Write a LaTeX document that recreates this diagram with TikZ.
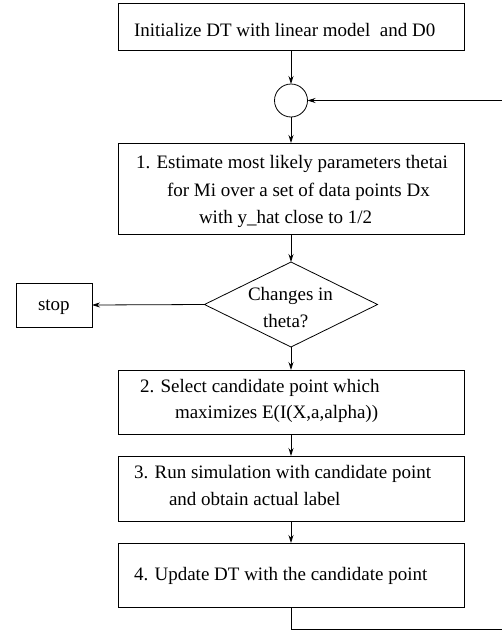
\documentclass[tikz,border=0pt]{standalone}
\usepackage{fontspec}
\setmainfont{Liberation Serif}
\usetikzlibrary{shapes.geometric,arrows.meta}
\begin{document}
\begin{tikzpicture}[x=1pt,y=-1pt,
  every path/.style={line width=0.8pt},
  box/.style={draw,rectangle,inner sep=0pt,outer sep=0pt},
  txt/.style={anchor=base west,inner sep=0pt,outer sep=0pt,font=\fontsize{19}{23}\selectfont},
  arr/.style={-{Stealth[length=8pt,width=5pt]}}]
\useasboundingbox (0,0) rectangle (501,632);
% shapes
\node[box,minimum width=346pt,minimum height=47pt] (b0) at (291,26.5) {};
\node[draw,circle,inner sep=0pt,outer sep=0pt,minimum size=33pt] (c) at (291,100.5) {};
\node[box,minimum width=346pt,minimum height=91pt] (b1) at (291,188.5) {};
\node[draw,diamond,inner sep=0pt,outer sep=0pt,aspect=2.03,minimum width=173pt,minimum height=85pt] (d) at (291,304.5) {};
\node[box,minimum width=76pt,minimum height=44pt] (stop) at (54,305) {};
\node[box,minimum width=346pt,minimum height=64pt] (b2) at (291,402) {};
\node[box,minimum width=346pt,minimum height=65pt] (b3) at (291,488.5) {};
\node[box,minimum width=346pt,minimum height=64pt] (b4) at (291,575) {};
% texts
\node[txt] (t0) at (134,36) {Initialize DT with linear model\ \ and D0};
\node[txt] (t1a) at (136,168) {1. Estimate most likely parameters thetai};
\node[txt] (t1b) at (167,196) {for Mi over a set of data points Dx};
\node[txt] (t1c) at (199,223) {with y\_hat close to 1/2};
\node[txt] (td1) at (248,300) {Changes in};
\node[txt] (td2) at (263,327) {theta?};
\node[txt] (ts) at (38,310) {stop};
\node[txt] (t2a) at (140,392) {2. Select candidate point which};
\node[txt] (t2b) at (175,418) {maximizes E(I(X,a,alpha))};
\node[txt] (t3a) at (134,478) {3. Run simulation with candidate point};
\node[txt] (t3b) at (169,505) {and obtain actual label};
\node[txt] (t4) at (134,580) {4. Update DT with the candidate point};
% connectors
\draw[arr] (b0.south) -- (c.north);
\draw[arr] (c.south) -- (b1.north);
\draw[arr] (b1.south) -- (d.north);
\draw[arr] (d.west) -- (stop.east);
\draw[arr] (d.south) -- (b2.north);
\draw[arr] (b2.south) -- (b3.north);
\draw[arr] (b3.south) -- (b4.north);
\coordinate (f1) at (291,629);
\coordinate (f2) at (506,629);
\coordinate (f3) at (506,100.5);
\draw[arr] (b4.south) -- (f1) -- (f2) -- (f3) -- (c.east);
\end{tikzpicture}
\end{document}
